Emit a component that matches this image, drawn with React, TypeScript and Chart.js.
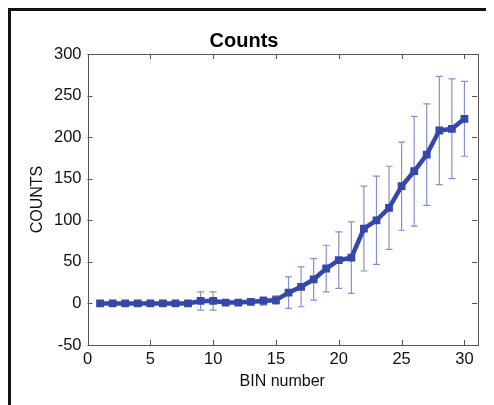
import React, { useEffect, useRef } from "react";
import { Chart, registerables } from "chart.js";

Chart.register(...registerables);

const bins = [1,2,3,4,5,6,7,8,9,10,11,12,13,14,15,16,17,18,19,20,21,22,23,24,25,26,27,28,29,30];
const counts = [0,0,0,0,0,0,0,0,3,3,1,1,2,3,4,13,20,29,42,52,55,90,100,115,141,159,179,208,210,222];
const errors = [0,0,0,0,0,0,0,0,11,11,0,0,0,5,5,19,24,25,28,34,43,51,53,50,53,66,61,65,60,45];
const chartTitle = "Counts";
const xTitle = "BIN number";
const yTitle = "COUNTS";

const LINE = "#3548a8";
const ERR = "#8490d0";
const AXIS = "#555555";
const FONT = "Arial, 'Liberation Sans', Helvetica, sans-serif";

const errorBarPlugin = {
  id: "errorBars",
  beforeDatasetsDraw(chart: any) {
    const { ctx, scales } = chart;
    const xs = scales.x, ys = scales.y;
    ctx.save();
    ctx.strokeStyle = ERR;
    ctx.lineWidth = 1.2;
    bins.forEach((b, i) => {
      const e = errors[i];
      if (!e) return;
      const px = xs.getPixelForValue(b);
      const top = ys.getPixelForValue(counts[i] + e);
      const bot = ys.getPixelForValue(counts[i] - e);
      ctx.beginPath();
      ctx.moveTo(px, top); ctx.lineTo(px, bot);
      ctx.moveTo(px - 3.5, top); ctx.lineTo(px + 3.5, top);
      ctx.moveTo(px - 3.5, bot); ctx.lineTo(px + 3.5, bot);
      ctx.stroke();
    });
    ctx.restore();
  },
};

const framePlugin = {
  id: "frameTicks",
  afterDraw(chart: any) {
    const { ctx, chartArea: a, scales } = chart;
    ctx.save();
    ctx.strokeStyle = AXIS;
    ctx.lineWidth = 1;
    ctx.strokeRect(Math.round(a.left) + 0.5, Math.round(a.top) + 0.5, Math.round(a.right - a.left), Math.round(a.bottom - a.top));
    const L = 5;
    ctx.beginPath();
    scales.x.ticks.forEach((t: any) => {
      const px = Math.round(scales.x.getPixelForValue(t.value)) + 0.5;
      ctx.moveTo(px, a.bottom); ctx.lineTo(px, a.bottom - L);
      ctx.moveTo(px, a.top); ctx.lineTo(px, a.top + L);
    });
    scales.y.ticks.forEach((t: any) => {
      const py = Math.round(scales.y.getPixelForValue(t.value)) + 0.5;
      ctx.moveTo(a.left, py); ctx.lineTo(a.left + L, py);
      ctx.moveTo(a.right, py); ctx.lineTo(a.right - L, py);
    });
    ctx.stroke();
    ctx.restore();
  },
};

export default function App() {
  const ref = useRef<HTMLCanvasElement | null>(null);
  useEffect(() => {
    if (!ref.current) return;
    const chart = new Chart(ref.current, {
      type: "line",
      data: {
        datasets: [
          {
            data: bins.map((b, i) => ({ x: b, y: counts[i] })),
            borderColor: LINE,
            backgroundColor: LINE,
            borderWidth: 4.5,
            pointStyle: "rect",
            pointRadius: 5.5,
            pointBorderWidth: 0,
            tension: 0,
          },
        ],
      },
      options: {
        animation: false,
        responsive: false,
        devicePixelRatio: 1,
        layout: { padding: { left: 0, right: 17, top: 0, bottom: 0 } },
        plugins: {
          legend: { display: false },
          tooltip: { enabled: false },
          title: {
            display: true,
            text: chartTitle,
            color: "#000",
            font: { family: FONT, size: 20, weight: "bold", lineHeight: 1.2 },
            padding: { top: 18.5, bottom: 0.5 },
          },
        },
        scales: {
          x: {
            type: "linear",
            min: 0,
            max: 31,
            afterFit(scale: any) { scale.height = 60; },
            grid: { display: false, drawTicks: false },
            border: { display: false },
            ticks: {
              stepSize: 5,
              includeBounds: false,
              padding: 5,
              color: "#111",
              maxRotation: 0,
              font: { family: FONT, size: 16.5 },
            },
            title: {
              display: true,
              text: xTitle,
              color: "#111",
              font: { family: FONT, size: 16, lineHeight: 1.2 },
              padding: { top: 0, bottom: 14 },
            },
          },
          y: {
            type: "linear",
            min: -50,
            max: 300,
            afterFit(scale: any) { scale.width = 76.5; },
            grid: { display: false, drawTicks: false },
            border: { display: false },
            ticks: {
              stepSize: 50,
              padding: 6,
              color: "#111",
              font: { family: FONT, size: 16.5 },
            },
            title: {
              display: true,
              text: yTitle,
              color: "#111",
              font: { family: FONT, size: 16, lineHeight: 1.2 },
              padding: { top: 17.4, bottom: 0 },
            },
          },
        },
      },
      plugins: [errorBarPlugin, framePlugin],
    } as any);
    return () => chart.destroy();
  }, []);

  return (
    <div style={{ width: 486, height: 397, overflow: "hidden" }}>
      <div
        style={{
          width: 483,
          height: 394,
          borderTop: "3px solid #111",
          borderLeft: "3px solid #111",
        }}
      >
        <canvas ref={ref} width={483} height={394} style={{ display: "block", width: 483, height: 394 }} />
      </div>
    </div>
  );
}
